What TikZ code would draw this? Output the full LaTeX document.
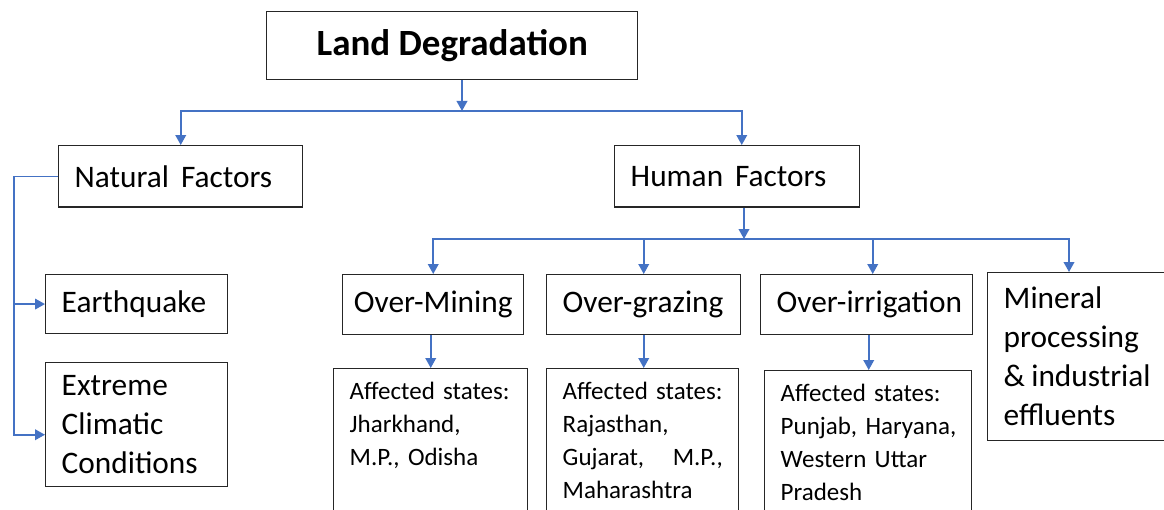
\documentclass[tikz,border=0pt]{standalone}
\usepackage{fontspec}
\setmainfont{Carlito}
\usetikzlibrary{arrows.meta}
\definecolor{connblue}{HTML}{4472C4}
\begin{document}
\begin{tikzpicture}[x=0.75pt,y=-0.75pt,
  box/.style={draw=black!85, line width=1.1pt, inner ysep=0pt, anchor=north west, align=left},
  big/.style={font=\fontsize{23.5}{29.25}\selectfont},
  small/.style={font=\fontsize{18.75}{24.75}\selectfont},
  conn/.style={draw=connblue, line width=1.2pt},
  arr/.style={conn, -{Triangle[width=8pt,length=7.5pt]}}]
\useasboundingbox (0,0) rectangle (1164,510);

% top
\node[box, align=center, inner xsep=0pt, minimum width=278.25pt, minimum height=51pt,
      font=\fontsize{27.75}{33}\selectfont\bfseries] (ld) at (266,11) {Land Degradation};

% second level
\node[box, big, text width=159pt, inner xsep=12pt, minimum height=46pt] (nat) at (58,145) {\mbox{Natural\hspace{0.38em}Factors}};
\node[box, big, text width=159.75pt, inner xsep=12pt, minimum height=46pt] (hum) at (614,145) {\mbox{Human\hspace{0.38em}Factors}};

% natural children
\node[box, big, text width=112.5pt, inner xsep=12pt, minimum height=44pt] (eq) at (45,274) {\mbox{Earthquake}};
\node[box, big, text width=112.5pt, inner xsep=12pt, minimum height=93pt] (ext) at (45,362) {\mbox{Extreme}\\\mbox{Climatic}\\\mbox{Conditions}};

% human children
\node[box, big, align=center, inner xsep=0pt, minimum width=135.75pt, minimum height=45pt] (om) at (342,274) {Over-Mining};
\node[box, big, text width=121.5pt, inner xsep=12pt, minimum height=45pt] (og) at (546,274) {\mbox{Over-grazing}};
\node[box, big, text width=135pt, inner xsep=12pt, minimum height=45pt] (oi) at (760,274) {\mbox{Over-irrigation}};
\node[box, big, text width=118.5pt, inner xsep=12pt, minimum height=126pt] (mp) at (987,272) {\mbox{Mineral}\\\mbox{processing}\\\mbox{\&\hspace{0.2em}industrial}\\\mbox{effluents}};

% affected states
\node[box, small, text width=121.5pt, inner xsep=12pt, inner ysep=10pt, text depth=120pt] (a1) at (333,368)
  {\mbox{Affected states:}\\\mbox{Jharkhand,}\\\mbox{M.P., Odisha}};
\node[box, small, text width=120pt, inner xsep=12pt, inner ysep=10pt, text depth=120pt] (a2) at (546,368)
  {\mbox{Affected states:}\\\mbox{Rajasthan,}\\Gujarat,\hfill M.P.,\\\mbox{Maharashtra}};
\node[box, small, text width=131.25pt, inner xsep=12pt, inner ysep=10pt, text depth=120pt] (a3) at (764,370)
  {\mbox{Affected states:}\\\mbox{Punjab, Haryana,}\\\mbox{Western Uttar}\\\mbox{Pradesh}};

% connectors from top
\coordinate (bus1) at (462,111);
\draw[arr] (ld.south -| bus1) -- (bus1);
\draw[arr] (bus1) -| (nat.north);
\draw[arr] (bus1) -| ([xshift=3.4pt]hum.north);

% natural side bracket
\coordinate (side) at (14,176);
\draw[arr] (nat.west) -| (side |- eq.west) -- (eq.west);
\draw[arr] (side |- eq.west) |- ([yshift=-7.5pt]ext.west);

% human bus
\coordinate (bus2) at (744,239);
\draw[arr] (hum.south -| bus2) -- (bus2);
\draw[arr] (bus2) -| (om.north);
\draw[arr] (bus2) -| (og.north);
\draw[arr] (bus2) -| ([xshift=4.5pt]oi.north);
\draw[arr] (bus2) -| ([xshift=61.5pt]mp.north west);

% down to affected states
\draw[arr] (om.south -| a1.north) -- (a1.north);
\draw[arr] (og.south) -- (og.south |- a2.north);
\draw[arr] ([xshift=1.5pt]oi.south) -- ([xshift=1.5pt]oi.south |- a3.north);
\end{tikzpicture}
\end{document}
